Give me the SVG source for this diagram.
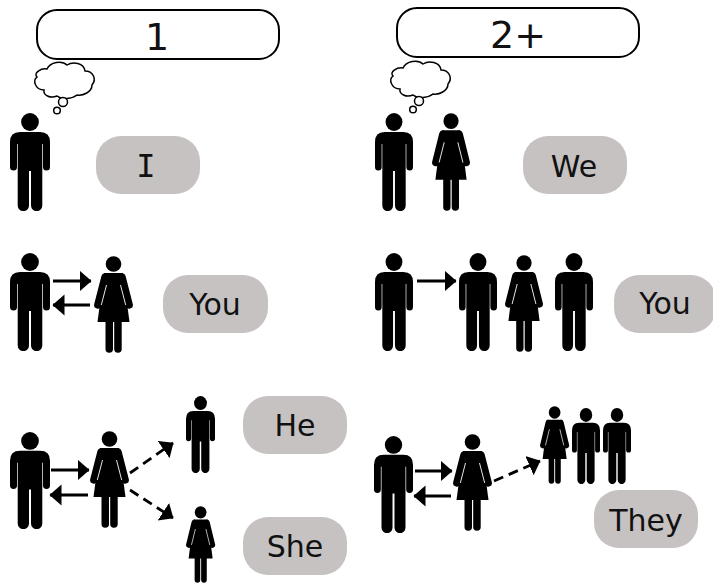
<svg xmlns="http://www.w3.org/2000/svg" xmlns:xlink="http://www.w3.org/1999/xlink" width="713" height="586" viewBox="0 0 713 586">
<style>
text{font-family:"DejaVu Sans","Liberation Sans",sans-serif;fill:#111;text-anchor:middle}
.h{font-size:38px}.p{font-size:30px}
.hdr{fill:#fff;stroke:#000;stroke-width:2}
.pill{fill:#c6c2c2}
.cloud{fill:#fff;stroke:#000;stroke-width:1.5}
.a{fill:none;stroke:#000;stroke-width:2.800;marker-end:url(#ah)}
.d{stroke-dasharray:10 6}
</style>
<defs>
<marker id="ah" markerUnits="userSpaceOnUse" markerWidth="14" markerHeight="22" refX="11.500" refY="10.500" orient="auto"><path d="M0 0L12 10.500L0 21Z"/></marker>
<symbol id="man" viewBox="0 0 40 98" preserveAspectRatio="none"><circle cx="20" cy="9" r="8.900"/><path d="M10 19H30Q40 19 40 29V54A3.500 3.500 0 0 1 33 54V31H32.300V92.500A5.600 5.600 0 0 1 21 92.500V58H19V92.500A5.600 5.600 0 0 1 7.700 92.500V31H7V54A3.500 3.500 0 0 1 0 54V29Q0 19 10 19Z"/></symbol>
<symbol id="woman" viewBox="0 0 40 97" preserveAspectRatio="none"><circle cx="19.500" cy="8" r="7.800"/><path d="M10 17H29L35.500 66H3.500Z"/><path d="M11 21L3.800 49M28 21L35.200 49" stroke="#000" stroke-width="7.400" stroke-linecap="round" fill="none"/><path d="M12.500 29L7.300 49M26.500 29L31.700 49" stroke="#fff" stroke-width="0.900" fill="none"/><path d="M11.500 64H19V93A3.750 3.750 0 0 1 11.500 93ZM20.200 64H27.700V93A3.750 3.750 0 0 1 20.200 93Z"/></symbol>
<g id="cloudshape"><path id="cl" class="cloud" d="M47 69C50 62 62 60 67 65C73 61 84 63 85 71C93 71 97 79 92 85C92 92 83 96 77 95C72 99 62 100 57 96C50 99 43 95 44 90C36 90 32 81 37 77C33 73 41 68 47 69Z"/></g>
</defs>
<g id="header-1"><rect class="hdr" x="37" y="10" width="242" height="49" rx="20"/><text class="h" x="157" y="50">1</text></g>
<g id="header-2"><rect class="hdr" x="397" y="8" width="242" height="49" rx="20"/><text class="h" x="518" y="48">2+</text></g>
<g id="thought-1"><use href="#cl"/><circle class="cloud" cx="63" cy="102" r="4.500"/><circle class="cloud" cx="57" cy="110.500" r="3.300"/></g>
<g id="thought-2"><use href="#cl" transform="translate(356,-1)"/><circle class="cloud" cx="419" cy="101" r="4.500"/><circle class="cloud" cx="413" cy="109.500" r="3.300"/></g>
<g id="row1-left"><use href="#man" x="10" y="113" width="40" height="98"/></g>
<g id="row1-right"><use href="#man" x="375" y="113" width="38" height="98"/><use href="#woman" x="432" y="113" width="39" height="98"/></g>
<g id="row2-left"><use href="#man" x="10" y="253" width="40" height="98"/><use href="#woman" x="94" y="256" width="40" height="97"/></g>
<g id="row2-right"><use href="#man" x="375" y="253" width="38" height="98"/><use href="#man" x="459" y="253" width="38" height="98"/><use href="#woman" x="505" y="255" width="39" height="97"/><use href="#man" x="555" y="253" width="38" height="98"/></g>
<g id="row3-left"><use href="#man" x="10" y="432" width="40" height="97"/><use href="#woman" x="90" y="431" width="40" height="97"/><use href="#man" x="186" y="396" width="29" height="77"/><use href="#woman" x="186" y="506" width="30" height="77"/></g>
<g id="row3-right"><use href="#man" x="374" y="436" width="39" height="97"/><use href="#woman" x="453" y="434" width="40" height="97"/><use href="#woman" x="540" y="406" width="30" height="78"/><use href="#man" x="572" y="408" width="28" height="76"/><use href="#man" x="603" y="408" width="28" height="76"/></g>
<g id="connectors">
<path class="a" d="M53 281H91"/><path class="a" d="M90 305H53"/>
<path class="a" d="M417 281H456"/>
<path class="a" d="M51 470H89"/><path class="a" d="M88 495H50"/>
<path class="a d" d="M130 473L173 443"/><path class="a d" d="M130 490L173 518"/>
<path class="a" d="M415 471H452"/><path class="a" d="M451 496H414"/>
<path class="a d" d="M494 481L540 461"/>
</g>
<g id="pill-i"><rect class="pill" x="96" y="136" width="104" height="58" rx="25"/><text class="p" x="146" y="177" style="font-family:'DejaVu Sans Mono',monospace;font-size:32px">I</text></g>
<g id="pill-you-1"><rect class="pill" x="163" y="275" width="105" height="58" rx="25"/><text class="p" x="215" y="315">You</text></g>
<g id="pill-we"><rect class="pill" x="523" y="136" width="104" height="58" rx="25"/><text class="p" x="574" y="177">We</text></g>
<g id="pill-you-2"><rect class="pill" x="614" y="275" width="102" height="58" rx="25"/><text class="p" x="665" y="314">You</text></g>
<g id="pill-he"><rect class="pill" x="243" y="396" width="104" height="58" rx="25"/><text class="p" x="295" y="436">He</text></g>
<g id="pill-she"><rect class="pill" x="243" y="517" width="104" height="58" rx="25"/><text class="p" x="295" y="557">She</text></g>
<g id="pill-they"><rect class="pill" x="594" y="490" width="104" height="58" rx="25"/><text class="p" x="646" y="531">They</text></g>
</svg>
